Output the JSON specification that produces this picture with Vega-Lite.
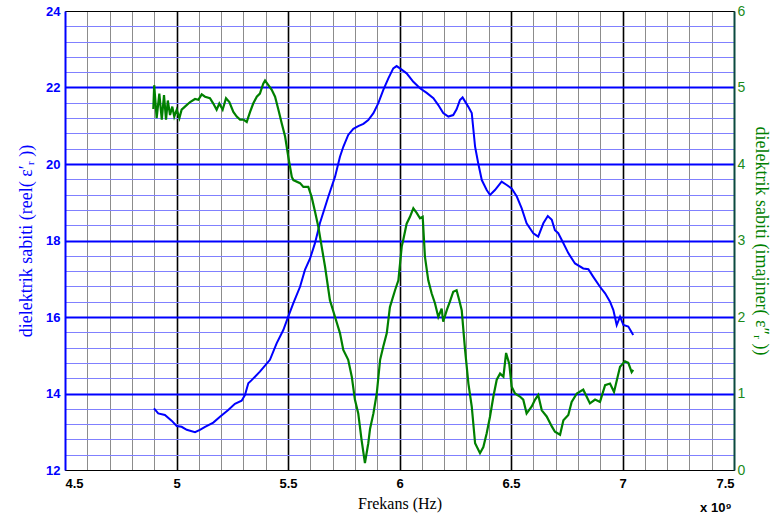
{
  "$schema": "https://vega.github.io/schema/vega-lite/v6.json",
  "width": 669,
  "height": 459,
  "autosize": "none",
  "padding": {"left": 65, "top": 11, "right": 39, "bottom": 50},
  "background": "white",
  "config": {
    "view": {"stroke": "#000000", "strokeWidth": 1},
    "axis": {"labelFont": "Liberation Sans", "titleFont": "Liberation Serif", "titleFontWeight": "normal", "ticks": false, "labelOverlap": false}
  },
  "datasets": {
    "reel": [
      {"f":4.899,"v":13.61},{"f":4.918,"v":13.48},{"f":4.948,"v":13.44},{"f":4.978,"v":13.29},{"f":5.001,"v":13.15},
      {"f":5.023,"v":13.13},{"f":5.046,"v":13.05},{"f":5.083,"v":12.99},{"f":5.105,"v":13.05},{"f":5.128,"v":13.13},
      {"f":5.165,"v":13.24},{"f":5.195,"v":13.39},{"f":5.232,"v":13.57},{"f":5.262,"v":13.73},{"f":5.292,"v":13.81},
      {"f":5.307,"v":13.96},{"f":5.322,"v":14.27},{"f":5.337,"v":14.35},{"f":5.374,"v":14.57},{"f":5.419,"v":14.88},
      {"f":5.449,"v":15.31},{"f":5.479,"v":15.66},{"f":5.501,"v":16.01},{"f":5.524,"v":16.36},{"f":5.554,"v":16.79},
      {"f":5.576,"v":17.23},{"f":5.599,"v":17.53},{"f":5.621,"v":17.93},{"f":5.643,"v":18.45},{"f":5.681,"v":19.15},
      {"f":5.711,"v":19.67},{"f":5.733,"v":20.19},{"f":5.748,"v":20.45},{"f":5.770,"v":20.76},{"f":5.793,"v":20.92},
      {"f":5.815,"v":20.99},{"f":5.838,"v":21.05},{"f":5.860,"v":21.15},{"f":5.883,"v":21.33},{"f":5.905,"v":21.59},
      {"f":5.927,"v":21.93},{"f":5.950,"v":22.24},{"f":5.972,"v":22.50},{"f":5.987,"v":22.56},{"f":6.002,"v":22.50},
      {"f":6.032,"v":22.37},{"f":6.062,"v":22.15},{"f":6.092,"v":21.98},{"f":6.122,"v":21.86},{"f":6.152,"v":21.72},
      {"f":6.174,"v":21.54},{"f":6.196,"v":21.33},{"f":6.219,"v":21.24},{"f":6.241,"v":21.28},{"f":6.256,"v":21.43},
      {"f":6.271,"v":21.67},{"f":6.283,"v":21.74},{"f":6.308,"v":21.50},{"f":6.324,"v":21.33},{"f":6.339,"v":20.45},
      {"f":6.353,"v":20.02},{"f":6.369,"v":19.58},{"f":6.391,"v":19.32},{"f":6.406,"v":19.19},{"f":6.428,"v":19.32},
      {"f":6.458,"v":19.54},{"f":6.481,"v":19.45},{"f":6.503,"v":19.36},{"f":6.526,"v":19.15},{"f":6.548,"v":18.84},
      {"f":6.570,"v":18.45},{"f":6.600,"v":18.19},{"f":6.622,"v":18.10},{"f":6.645,"v":18.45},{"f":6.665,"v":18.64},
      {"f":6.683,"v":18.54},{"f":6.697,"v":18.27},{"f":6.712,"v":18.19},{"f":6.735,"v":17.93},{"f":6.757,"v":17.67},
      {"f":6.787,"v":17.40},{"f":6.824,"v":17.27},{"f":6.847,"v":17.25},{"f":6.869,"v":17.05},{"f":6.899,"v":16.79},
      {"f":6.922,"v":16.62},{"f":6.944,"v":16.40},{"f":6.959,"v":16.18},{"f":6.974,"v":15.79},{"f":6.989,"v":16.01},
      {"f":7.004,"v":15.79},{"f":7.026,"v":15.75},{"f":7.048,"v":15.53}
    ],
    "imaj": [
      {"f":4.896,"v":4.72},{"f":4.900,"v":5.03},{"f":4.911,"v":4.60},{"f":4.923,"v":4.92},{"f":4.934,"v":4.58},
      {"f":4.944,"v":4.90},{"f":4.953,"v":4.58},{"f":4.961,"v":4.83},{"f":4.971,"v":4.64},{"f":4.981,"v":4.75},
      {"f":4.990,"v":4.62},{"f":5.001,"v":4.71},{"f":5.013,"v":4.60},{"f":5.023,"v":4.71},{"f":5.038,"v":4.75},
      {"f":5.061,"v":4.81},{"f":5.083,"v":4.85},{"f":5.098,"v":4.84},{"f":5.113,"v":4.91},{"f":5.128,"v":4.88},
      {"f":5.150,"v":4.86},{"f":5.165,"v":4.79},{"f":5.180,"v":4.71},{"f":5.192,"v":4.79},{"f":5.207,"v":4.71},
      {"f":5.222,"v":4.86},{"f":5.237,"v":4.81},{"f":5.255,"v":4.68},{"f":5.270,"v":4.62},{"f":5.285,"v":4.58},
      {"f":5.300,"v":4.58},{"f":5.315,"v":4.55},{"f":5.330,"v":4.68},{"f":5.344,"v":4.79},{"f":5.360,"v":4.88},
      {"f":5.374,"v":4.92},{"f":5.389,"v":5.05},{"f":5.397,"v":5.09},{"f":5.412,"v":5.03},{"f":5.427,"v":4.97},
      {"f":5.442,"v":4.88},{"f":5.457,"v":4.71},{"f":5.472,"v":4.53},{"f":5.487,"v":4.36},{"f":5.501,"v":4.10},
      {"f":5.517,"v":3.83},{"f":5.524,"v":3.79},{"f":5.554,"v":3.75},{"f":5.569,"v":3.70},{"f":5.591,"v":3.70},
      {"f":5.606,"v":3.57},{"f":5.621,"v":3.38},{"f":5.636,"v":3.18},{"f":5.651,"v":2.92},{"f":5.666,"v":2.66},
      {"f":5.688,"v":2.22},{"f":5.711,"v":2.00},{"f":5.733,"v":1.79},{"f":5.748,"v":1.57},{"f":5.770,"v":1.44},
      {"f":5.786,"v":1.22},{"f":5.800,"v":0.92},{"f":5.815,"v":0.74},{"f":5.830,"v":0.39},{"f":5.845,"v":0.09},
      {"f":5.860,"v":0.35},{"f":5.868,"v":0.54},{"f":5.883,"v":0.74},{"f":5.898,"v":1.00},{"f":5.913,"v":1.44},
      {"f":5.927,"v":1.61},{"f":5.943,"v":1.79},{"f":5.957,"v":2.13},{"f":5.980,"v":2.35},{"f":5.995,"v":2.48},
      {"f":6.010,"v":2.92},{"f":6.017,"v":3.01},{"f":6.032,"v":3.22},{"f":6.047,"v":3.31},{"f":6.062,"v":3.42},
      {"f":6.077,"v":3.36},{"f":6.092,"v":3.29},{"f":6.104,"v":3.31},{"f":6.114,"v":2.79},{"f":6.129,"v":2.48},
      {"f":6.144,"v":2.31},{"f":6.159,"v":2.18},{"f":6.174,"v":2.00},{"f":6.189,"v":2.11},{"f":6.196,"v":1.94},
      {"f":6.212,"v":2.09},{"f":6.226,"v":2.20},{"f":6.241,"v":2.33},{"f":6.256,"v":2.35},{"f":6.268,"v":2.22},
      {"f":6.279,"v":2.09},{"f":6.294,"v":1.57},{"f":6.309,"v":1.13},{"f":6.324,"v":0.83},{"f":6.339,"v":0.35},
      {"f":6.361,"v":0.22},{"f":6.376,"v":0.30},{"f":6.391,"v":0.48},{"f":6.406,"v":0.70},{"f":6.421,"v":0.96},
      {"f":6.436,"v":1.18},{"f":6.451,"v":1.26},{"f":6.466,"v":1.22},{"f":6.478,"v":1.53},{"f":6.492,"v":1.39},
      {"f":6.503,"v":1.09},{"f":6.518,"v":1.00},{"f":6.540,"v":0.96},{"f":6.555,"v":0.92},{"f":6.570,"v":0.74},
      {"f":6.593,"v":0.83},{"f":6.608,"v":0.92},{"f":6.622,"v":0.98},{"f":6.638,"v":0.78},{"f":6.660,"v":0.70},
      {"f":6.683,"v":0.57},{"f":6.697,"v":0.50},{"f":6.720,"v":0.46},{"f":6.735,"v":0.65},{"f":6.757,"v":0.72},
      {"f":6.772,"v":0.89},{"f":6.795,"v":1.00},{"f":6.824,"v":1.05},{"f":6.854,"v":0.87},{"f":6.877,"v":0.92},
      {"f":6.899,"v":0.89},{"f":6.922,"v":1.11},{"f":6.944,"v":1.13},{"f":6.962,"v":1.02},{"f":6.989,"v":1.35},
      {"f":7.011,"v":1.42},{"f":7.026,"v":1.40},{"f":7.041,"v":1.28},{"f":7.048,"v":1.31}
    ]
  },
  "layer": [
    {
      "data": {"name": "reel"},
      "mark": {"type": "line", "color": "#0000ff", "strokeWidth": 2},
      "encoding": {
        "x": {
          "field": "f", "type": "quantitative",
          "scale": {"domain": [4.5, 7.5], "nice": false, "zero": false},
          "axis": {
            "orient": "bottom",
            "values": [4.5, 5, 5.5, 6, 6.5, 7, 7.5],
            "labelOverlap": false,
            "labelExpr": "format(datum.value, '.2~f')",
            "labelFontSize": 13, "labelFontWeight": "bold", "labelColor": "#000000", "labelPadding": 7,
            "domainColor": "#000000", "domainWidth": 1,
            "grid": true,
            "gridColor": {"condition": {"test": "datum.value < 4.55 || datum.value > 7.45", "value": "transparent"}, "value": "#000000"},
            "gridWidth": 1.6,
            "title": "Frekans (Hz)", "titleFontSize": 16, "titleColor": "#000000", "titlePadding": 5
          }
        },
        "y": {
          "field": "v", "type": "quantitative",
          "scale": {"domain": [12, 24], "nice": false, "zero": false},
          "axis": {
            "orient": "left",
            "values": [12,14,16,18,20,22,24],
            "labelOverlap": false,
            "format": "d",
            "labelFontSize": 13, "labelFontWeight": "bold", "labelColor": "#0000ff", "labelPadding": 5,
            "domainColor": "#0000ff", "domainWidth": 2,
            "grid": true,
            "gridColor": {"condition": {"test": "datum.value < 12.5 || datum.value > 23.5", "value": "transparent"}, "value": "#0000ff"},
            "gridWidth": 1.8,
            "title": "dielektrik sabiti (reel( ε′ᵣ ))", "titleFontSize": 18, "titleColor": "#0000ff", "titlePadding": 10
          }
        }
      }
    },
    {
      "data": {"name": "imaj"},
      "mark": {"type": "line", "color": "#008000", "strokeWidth": 2.2},
      "encoding": {
        "x": {
          "field": "f", "type": "quantitative",
          "axis": {
            "orient": "bottom",
            "values": [4.6,4.7,4.8,4.9,5.1,5.2,5.3,5.4,5.6,5.7,5.8,5.9,6.1,6.2,6.3,6.4,6.6,6.7,6.8,6.9,7.1,7.2,7.3,7.4],
            "labels": false, "domain": false, "ticks": false, "title": null,
            "grid": true, "gridColor": "#000000", "gridOpacity": 0.45, "gridWidth": 1
          }
        },
        "y": {
          "field": "v", "type": "quantitative",
          "scale": {"domain": [0, 6], "nice": false, "zero": false},
          "axis": {
            "orient": "right",
            "values": [0,0.2,0.4,0.6,0.8,1,1.2,1.4,1.6,1.8,2,2.2,2.4,2.6,2.8,3,3.2,3.4,3.6,3.8,4,4.2,4.4,4.6,4.8,5,5.2,5.4,5.6,5.8,6],
            "labelOverlap": false,
            "labelExpr": "abs(datum.value - round(datum.value)) < 0.001 ? format(datum.value, 'd') : ''",
            "labelFontSize": 14, "labelColor": "#1a8a1a", "labelPadding": 3,
            "domainColor": "#0b4a40", "domainWidth": 2,
            "grid": true,
            "gridColor": {"condition": {"test": "abs(datum.value - round(datum.value)) < 0.001", "value": "transparent"}, "value": "#8080ff"},
            "gridWidth": 1,
            "title": "dielektrik sabiti (imajiner( ε″ᵣ ))", "titleFontSize": 18, "titleColor": "#008000", "titlePadding": 7
          }
        }
      }
    },
    {
      "data": {"values": [{"t": "x 10⁹"}]},
      "mark": {"type": "text", "align": "left", "baseline": "middle", "dy": 38, "font": "Liberation Sans", "fontWeight": "bold", "fontSize": 13, "color": "#000000"},
      "encoding": {
        "x": {"datum": 7.348, "type": "quantitative", "axis": null},
        "y": {"datum": 12, "type": "quantitative", "scale": {"domain": [12, 24], "nice": false, "zero": false}, "axis": null},
        "text": {"field": "t"}
      }
    }
  ],
  "resolve": {"scale": {"y": "independent"}, "axis": {"x": "independent", "y": "independent"}}
}
